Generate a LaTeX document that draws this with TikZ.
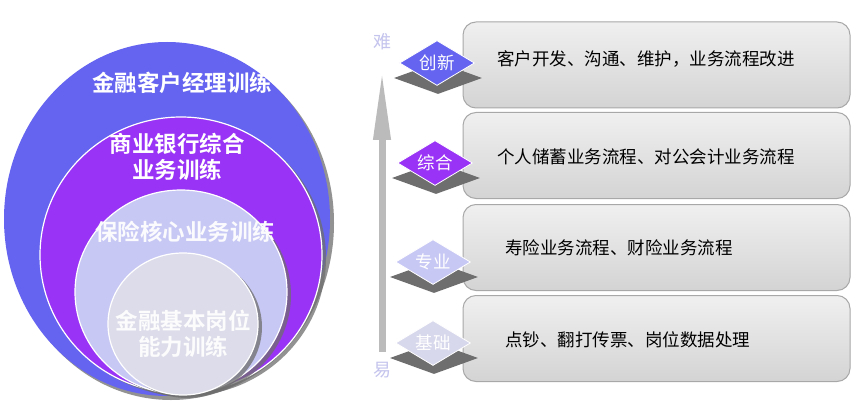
\documentclass[tikz,border=0pt]{standalone}
\usepackage{fontspec}
\setmainfont{Noto Sans CJK SC}
\newfontfamily\cjkbold{Noto Sans CJK SC Bold}
\usetikzlibrary{shapes.geometric,arrows.meta}
\definecolor{cBlue}{HTML}{6464F0}
\definecolor{cPurple}{HTML}{9933F5}
\definecolor{cLav}{HTML}{C8C8F5}
\definecolor{cPale}{HTML}{DCDCEA}
\definecolor{cShadow}{HTML}{6E6E6E}
\definecolor{cArrow}{HTML}{BBBBBB}
\definecolor{cEase}{HTML}{C4C4EE}
\definecolor{cBorder}{HTML}{A8A8A8}
\tikzset{
  ring/.style={draw=white, line width=1.2pt},
  ringshadow/.style={fill=cShadow, opacity=0.75},
  ringtext/.style={font=\cjkbold\fontsize{22.5}{26}\selectfont, text=white, align=center},
  gem/.style={diamond, aspect=1.65, minimum width=75pt, minimum height=45pt, inner sep=0pt, draw=white, line width=0.8pt, font=\fontsize{17.5}{19}\selectfont, text=white},
  gemshadow/.style={diamond, aspect=2.8, minimum width=88pt, minimum height=32pt, inner sep=0pt, fill=cShadow},
  panel/.style={rectangle, rounded corners=13pt, draw=cBorder, line width=1pt, top color=white!94!black, bottom color=white!83!black, minimum width=387pt, minimum height=86pt},
  paneltext/.style={anchor=west, font=\fontsize{17.5}{20}\selectfont, text=black, inner sep=0pt},
  endlabel/.style={font=\fontsize{18}{20}\selectfont, text=cEase}
}
\begin{document}
\begin{tikzpicture}[x=1pt,y=-1pt]
\useasboundingbox (0,0) rectangle (859,409);
\fill[white] (0,0) rectangle (859,409);
% concentric rings
\fill[ringshadow] (171,223) ellipse [x radius=163, y radius=177];
\fill[cBlue] (167,219) ellipse [x radius=163, y radius=177];
\fill[ringshadow] (185,258) ellipse [x radius=141, y radius=138];
\filldraw[ring, fill=cPurple] (181,255) ellipse [x radius=141, y radius=138];
\fill[ringshadow] (185,295) ellipse [x radius=106, y radius=102];
\filldraw[ring, fill=cLav] (181,292) ellipse [x radius=106, y radius=102];
\fill[ringshadow] (187,327) ellipse [x radius=75, y radius=71];
\filldraw[ring, fill=cPale] (183,324) ellipse [x radius=75, y radius=71];
\node[ringtext] (t1) at (182,83) {金融客户经理训练};
\node[ringtext] (t2) at (177,157) {商业银行综合\\业务训练};
\node[ringtext, text=white!92!cLav] (t3) at (185,232) {保险核心业务训练};
\node[ringtext, text=white!92!cPale] (t4) at (183,334) {金融基本岗位\\能力训练};
% difficulty arrow
\node[endlabel] (hard) at (382,42) {难};
\node[endlabel] (easy) at (382,370) {易};
\coordinate (abot) at (382,352);
\coordinate (atop) at (382,70);
\draw[cArrow, line width=7pt, -{Triangle[length=70pt, width=16pt]}] (abot) -- (atop);
% panels
\node[panel] (p1) at (656.5,65) {};
\node[panel] (p2) at (656.5,155.5) {};
\node[panel] (p3) at (656.5,247.5) {};
\node[panel] (p4) at (656.5,338.5) {};
\node[paneltext] (x1) at (497,59) {客户开发、沟通、维护，业务流程改进};
\node[paneltext] (x2) at (497,157) {个人储蓄业务流程、对公会计业务流程};
\node[paneltext] (x3) at (505,248) {寿险业务流程、财险业务流程};
\node[paneltext] (x4) at (505,340) {点钞、翻打传票、岗位数据处理};
% level gems
\node[gemshadow] (s1) at (438,78) {};
\node[gem, fill=cBlue] (g1) at (437,63) {创新};
\node[gemshadow] (s2) at (436,178) {};
\node[gem, fill=cPurple] (g2) at (435,163) {综合};
\node[gemshadow] (s3) at (434,277) {};
\node[gem, fill=cLav] (g3) at (433,262) {专业};
\node[gemshadow] (s4) at (434,358) {};
\node[gem, fill=cPale!80!cLav] (g4) at (433,343) {基础};
\end{tikzpicture}
\end{document}
